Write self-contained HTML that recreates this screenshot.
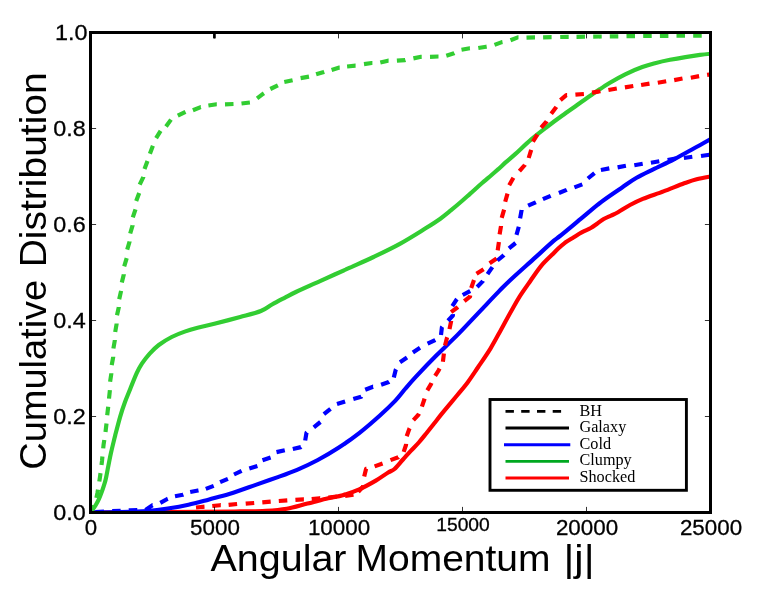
<!DOCTYPE html>
<html><head><meta charset="utf-8"><title>Cumulative Distribution</title>
<style>html,body{margin:0;padding:0;background:#fff;}svg{display:block;will-change:transform;}text{font-family:"Liberation Sans",sans-serif;fill:#000;}.ser{font-family:"Liberation Serif",serif;}</style>
</head><body>
<svg width="773" height="596" viewBox="0 0 773 596">
<rect x="0" y="0" width="773" height="596" fill="#fff"/>
<svg x="90.5" y="32.5" width="620.0" height="480.0" viewBox="90.5 32.5 620.0 480.0" overflow="hidden">
<g fill="none" stroke-linejoin="round">
<path d="M90.5,512.5 C114.6,512.3 205.8,511.8 235.0,511.5 C264.2,511.2 257.4,511.3 266.0,510.8 C274.6,510.3 279.9,509.9 286.8,508.7 C293.7,507.5 300.6,505.2 307.5,503.5 C314.4,501.8 322.3,499.7 328.2,498.3 C334.1,496.9 337.5,496.7 342.7,495.2 C347.9,493.7 353.7,491.7 359.2,489.3 C364.7,486.9 371.0,483.4 375.8,480.6 C380.6,477.8 385.1,474.4 388.2,472.5 C391.3,470.6 392.0,471.2 394.5,469.0 C397.0,466.8 400.3,462.5 403.0,459.5 C405.7,456.5 408.2,453.6 410.8,450.8 C413.4,448.0 416.2,445.5 418.8,442.5 C421.4,439.5 424.0,436.2 426.6,433.0 C429.2,429.8 431.7,426.6 434.3,423.3 C436.9,420.0 439.5,416.6 442.1,413.4 C444.7,410.2 447.2,407.2 449.8,404.1 C452.4,401.0 454.6,398.5 457.6,394.8 C460.6,391.1 464.4,386.8 467.8,382.2 C471.2,377.6 474.4,372.6 478.2,367.0 C482.0,361.4 486.8,354.5 490.6,348.3 C494.4,342.1 497.6,335.9 501.0,329.7 C504.4,323.5 508.2,316.5 511.3,311.0 C514.4,305.5 516.3,301.8 519.6,296.6 C522.9,291.4 527.4,285.2 531.0,280.0 C534.6,274.8 537.9,269.8 541.4,265.6 C544.9,261.4 549.2,257.6 552.0,254.8 C554.8,252.0 555.9,250.8 558.0,248.8 C560.1,246.8 562.4,244.7 564.9,242.8 C567.4,241.0 570.2,239.4 573.0,237.7 C575.8,236.0 578.7,234.0 581.7,232.4 C584.7,230.8 588.2,229.4 590.8,228.0 C593.3,226.6 594.9,225.3 597.0,223.8 C599.1,222.3 601.4,220.4 603.7,219.0 C606.0,217.6 608.6,216.7 611.0,215.6 C613.4,214.5 614.8,214.1 618.0,212.3 C621.2,210.5 625.9,207.2 630.0,205.0 C634.1,202.8 637.2,201.2 642.8,198.9 C648.4,196.6 656.6,194.0 663.5,191.4 C670.4,188.8 678.7,185.3 684.2,183.3 C689.7,181.3 692.0,180.4 696.6,179.2 C701.2,178.0 709.4,176.7 712.0,176.2" stroke="#ff0000" stroke-width="4.17"/>
<path d="M90.5,512.5 C91.0,511.9 92.3,510.1 93.2,508.8 C94.1,507.6 94.8,506.7 95.8,505.0 C96.8,503.3 98.0,500.9 99.0,498.8 C100.0,496.7 100.8,494.5 101.6,492.3 C102.4,490.1 103.1,488.0 103.8,485.8 C104.5,483.6 105.0,482.5 105.7,479.2 C106.5,475.9 107.4,470.5 108.3,466.1 C109.2,461.7 110.0,457.2 111.0,452.8 C112.0,448.4 113.3,443.1 114.1,439.8 C114.9,436.5 114.8,437.0 115.8,433.1 C116.8,429.2 118.7,421.8 120.2,416.6 C121.7,411.4 123.3,406.6 125.0,402.0 C126.7,397.4 128.4,393.5 130.3,388.7 C132.2,383.9 134.8,377.3 136.7,373.1 C138.6,368.9 139.7,366.9 141.9,363.6 C144.1,360.4 146.9,356.7 149.7,353.6 C152.5,350.5 155.1,347.8 158.8,345.0 C162.5,342.2 167.4,339.2 171.7,337.0 C176.0,334.8 180.4,333.1 184.7,331.6 C189.0,330.1 192.6,329.1 197.6,327.8 C202.6,326.5 207.3,325.6 214.4,323.8 C221.5,322.0 232.4,319.1 240.2,317.0 C247.9,314.9 255.6,313.1 260.9,311.0 C266.2,308.9 268.0,306.7 272.0,304.5 C276.0,302.3 281.0,299.7 285.0,297.6 C289.0,295.5 289.8,294.9 295.9,292.0 C302.0,289.1 313.1,284.2 321.7,280.3 C330.3,276.4 339.0,272.6 347.6,268.7 C356.2,264.8 364.9,261.1 373.5,257.0 C382.1,252.9 390.8,248.8 399.4,244.1 C408.0,239.4 418.4,232.8 425.2,228.6 C432.0,224.4 435.7,222.1 440.0,219.0 C444.3,215.9 447.3,213.3 451.1,210.2 C454.9,207.1 459.7,203.0 462.8,200.3 C465.9,197.6 467.6,196.0 470.0,193.9 C472.4,191.8 474.8,189.6 477.1,187.5 C479.4,185.4 481.6,183.5 484.0,181.4 C486.4,179.3 489.0,177.2 491.3,175.2 C493.6,173.2 495.6,171.5 498.0,169.4 C500.4,167.3 502.7,165.0 505.6,162.4 C508.5,159.8 511.3,157.7 515.5,153.9 C519.7,150.1 525.8,144.0 531.0,139.6 C536.2,135.2 541.3,131.3 546.5,127.3 C551.7,123.3 556.8,119.5 562.0,115.8 C567.2,112.0 572.3,108.5 577.5,104.8 C582.7,101.1 587.9,97.3 593.2,93.7 C598.5,90.1 604.2,86.2 609.5,83.0 C614.8,79.8 619.7,77.0 625.2,74.3 C630.7,71.6 637.3,68.8 642.3,67.0 C647.3,65.2 650.4,64.4 655.0,63.2 C659.6,62.0 664.9,60.8 670.0,59.8 C675.1,58.8 680.4,57.9 685.4,57.1 C690.4,56.3 695.6,55.5 700.0,54.9 C704.4,54.3 710.0,53.8 712.0,53.6" stroke="#32cd32" stroke-width="4.17"/>
<path d="M90.5,512.5 C95.4,512.4 110.6,512.2 120.0,512.0 C129.4,511.8 139.0,511.6 147.0,511.0 C155.0,510.4 160.9,509.6 167.8,508.5 C174.7,507.4 181.6,506.2 188.5,504.7 C195.4,503.2 202.3,501.2 209.2,499.4 C216.1,497.6 222.2,496.2 230.0,493.8 C237.8,491.4 248.0,487.6 255.7,484.9 C263.4,482.2 269.5,480.1 276.4,477.6 C283.3,475.1 290.2,472.7 297.1,469.8 C304.0,466.9 310.9,463.7 317.8,460.0 C324.7,456.3 331.6,452.3 338.5,447.8 C345.4,443.3 352.3,438.5 359.2,433.1 C366.1,427.7 373.9,420.9 379.9,415.5 C385.9,410.1 391.1,405.1 395.4,400.6 C399.7,396.1 402.1,392.5 405.5,388.5 C408.9,384.5 410.8,382.2 416.0,376.6 C421.2,371.0 429.9,361.9 436.8,355.0 C443.7,348.1 450.6,341.9 457.5,334.9 C464.4,327.9 471.3,320.4 478.2,313.1 C485.1,305.9 493.5,296.9 498.9,291.4 C504.3,285.9 504.7,285.3 510.4,280.0 C516.1,274.7 526.0,265.9 533.2,259.4 C540.5,252.8 549.4,244.6 553.9,240.7 C558.4,236.8 555.5,239.6 560.0,236.0 C564.5,232.4 573.8,224.6 580.7,218.9 C587.6,213.2 594.5,207.1 601.4,201.8 C608.3,196.6 616.2,191.4 622.1,187.4 C628.0,183.4 631.4,180.8 636.6,177.8 C641.8,174.8 647.0,172.4 653.2,169.3 C659.4,166.2 667.0,162.9 673.9,159.3 C680.8,155.8 688.2,151.5 694.6,148.0 C701.0,144.5 709.1,139.9 712.0,138.3" stroke="#0000ff" stroke-width="4.17"/>
<path d="M196.0,507.5 L203.0,506.8 L204.5,506.7 M212.3,506.0 L220.0,505.2 L220.8,505.2 M228.6,504.9 L237.1,504.0 M245.7,503.7 L254.2,503.0 M262.3,502.3 L270.7,501.6 M278.8,501.0 L287.3,500.4 M295.4,499.8 L303.7,499.3 L303.9,499.3 M311.7,499.0 L319.8,498.2 L320.2,498.2 M328.3,497.5 L336.5,496.7 L336.8,496.7 M345.1,495.9 L353.5,494.7 M358.3,492.0 L363.0,486.6 L363.2,485.3 M364.2,476.5 L366.1,468.7 L366.6,468.6 M374.6,466.4 L382.6,463.5 M390.5,460.1 L398.3,457.2 L398.4,457.1 M403.7,451.9 L406.0,445.0 L406.1,443.8 M406.7,436.2 L409.5,428.4 L409.6,428.2 M413.4,420.1 L418.4,414.8 L418.9,413.7 M421.9,406.6 L424.4,399.3 L424.6,398.6 M427.3,390.4 L431.0,384.1 L431.5,383.0 M435.1,375.8 L438.8,370.1 L439.6,368.6 M442.9,361.8 L443.9,353.4 M445.0,345.5 L447.0,337.8 L447.2,337.3 M449.5,329.2 L451.1,321.4 L451.1,320.9 M451.1,312.1 L457.3,307.5 L457.9,307.0 M464.3,301.2 L470.0,296.6 L470.2,295.4 M471.2,288.0 L473.6,281.1 L474.0,280.0 M476.5,273.8 L483.6,269.2 M489.6,263.2 L496.6,258.5 L496.6,258.4 M497.7,250.4 L498.8,242.8 L498.9,242.0 M499.6,234.3 L501.0,226.2 L501.0,225.9 M501.7,217.8 L504.1,209.6 M505.2,201.8 L507.5,193.6 M509.2,185.2 L513.4,177.8 M519.4,171.2 L524.8,165.0 L524.9,164.8 M528.7,158.0 L531.1,150.2 L531.2,149.9 M532.9,141.7 L537.3,134.7 L537.4,134.5 M541.1,127.7 L546.6,121.5 L546.7,121.3 M551.2,113.7 L555.9,107.5 L556.3,106.9 M560.4,100.2 L566.3,95.2 L567.1,95.2 M575.4,94.7 L583.9,94.0 M592.0,92.6 L600.0,91.3 L600.4,91.2 M608.4,90.0 L616.8,88.5 M624.9,87.4 L633.3,86.0 M641.1,85.0 L649.5,83.6 M657.8,82.7 L666.2,81.2 M674.2,80.1 L682.5,78.5 M690.8,77.7 L699.1,76.1 M707.1,74.9 L712.0,74.2" stroke="#ff0000" stroke-width="4.17"/>
<path d="M90.5,512.5 L92.2,509.7 L94.2,505.8 M96.4,497.9 L97.4,493.2 L98.0,489.6 M99.3,481.5 L99.9,477.6 L100.5,473.1 M101.5,465.0 L102.0,461.0 L102.4,456.5 M103.2,448.4 L103.6,444.5 L104.3,440.0 M105.5,431.9 L106.5,423.5 M107.2,415.2 L108.2,406.8 M109.0,398.6 L109.9,390.1 M110.1,381.7 L111.3,373.7 L111.3,373.3 M111.7,365.2 L113.2,357.2 L113.2,356.8 M113.4,348.5 L114.8,340.5 L114.8,340.1 M115.2,332.0 L116.6,324.0 L116.6,323.6 M117.0,315.3 L118.8,307.2 L118.8,307.0 M119.2,299.2 L121.1,290.9 M121.8,282.5 L123.8,274.4 L123.8,274.2 M124.2,266.3 L126.7,258.2 M127.2,249.6 L129.6,241.5 L129.6,241.4 M130.2,233.5 L132.6,225.4 L132.6,225.3 M132.8,217.4 L135.5,209.3 M136.2,200.9 L139.2,192.9 M139.7,184.6 L143.3,177.1 L143.3,176.9 M144.5,169.1 L147.5,161.1 M149.9,153.7 L152.9,145.8 M156.1,138.1 L160.6,130.9 M166.0,126.5 L171.0,119.6 M177.8,115.6 L185.5,111.9 M192.9,110.2 L200.7,107.1 L200.8,107.1 M208.4,105.5 L216.6,104.3 L216.8,104.3 M225.0,104.3 L233.5,104.0 M241.5,103.5 L249.9,102.5 M257.1,98.3 L263.3,93.7 L263.9,93.3 M270.3,89.0 L277.3,85.6 L277.9,85.3 M284.3,82.0 L292.6,80.2 M300.6,78.1 L309.0,76.6 M316.1,74.3 L323.9,71.9 L324.2,71.8 M331.6,70.1 L339.4,67.6 L339.7,67.6 M347.1,66.5 L355.5,65.7 L355.6,65.7 M364.0,64.1 L371.7,63.0 L372.4,63.0 M380.3,62.6 L388.0,60.7 L388.6,60.7 M396.9,60.7 L405.1,60.1 L405.4,60.0 M413.4,58.4 L421.1,56.8 L421.7,56.8 M430.0,56.8 L438.2,56.5 L438.5,56.5 M446.3,55.7 L454.0,53.3 L454.4,53.1 M461.5,49.8 L469.8,48.3 L469.9,48.3 M478.3,48.0 L486.1,46.7 L486.7,46.6 M494.5,44.9 L501.9,42.1 L502.5,42.0 M510.5,40.2 L517.8,37.4 L518.5,37.4 M526.5,37.7 L534.8,37.4 L535.0,37.4 M543.1,37.4 L551.3,37.1 L551.6,37.1 M560.2,37.0 L567.9,36.8 L568.7,36.8 M576.5,36.8 L585.0,36.7 M593.2,36.6 L593.2,36.6 L601.7,36.5 M609.8,36.4 L618.3,36.3 M626.5,36.2 L635.0,36.1 M643.2,36.0 L643.2,36.0 L651.7,35.9 M659.9,35.9 L668.4,35.8 M676.5,35.7 L685.0,35.7 M693.2,35.6 L701.7,35.6 M709.9,35.5 L712.0,35.5" stroke="#32cd32" stroke-width="4.17"/>
<path d="M95.5,512.0 L104.0,511.6 M112.2,511.2 L120.7,510.8 M128.8,510.4 L130.0,510.3 L137.3,510.1 M145.5,509.9 L152.5,505.2 L152.6,505.2 M160.3,502.9 L167.3,499.0 L167.8,498.8 M175.0,496.2 L182.8,494.7 L183.3,494.5 M190.2,492.0 L198.0,490.5 L198.5,490.4 M205.8,488.9 L213.7,485.9 M220.1,482.2 L227.9,478.9 M234.0,474.5 L241.6,470.8 M249.3,468.4 L257.4,465.9 M262.5,460.2 L270.6,457.5 M276.5,452.1 L284.8,450.2 M292.8,449.0 L300.9,447.1 L301.0,447.0 M305.2,440.5 L306.5,432.7 L306.9,432.3 M313.8,427.3 L320.4,422.0 M323.9,414.1 L330.5,408.8 M337.0,404.0 L345.1,401.4 M353.3,399.1 L361.2,396.8 L361.3,396.6 M365.2,389.8 L373.0,386.7 L373.1,386.7 M381.1,384.7 L388.8,382.0 L389.1,381.8 M393.8,377.4 L395.8,369.6 L396.0,369.2 M400.0,362.3 L407.0,357.5 M412.9,352.5 L420.0,347.8 M427.6,343.7 L435.1,340.1 L435.3,340.0 M441.0,335.1 L441.9,327.3 L442.3,326.8 M448.0,320.7 L452.9,315.5 L452.8,314.2 M452.3,306.2 L456.5,299.7 L457.0,299.1 M462.7,295.0 L470.0,291.1 L470.2,291.0 M477.1,287.0 L482.9,281.1 L483.0,280.9 M487.5,274.1 L492.2,267.4 L492.4,267.1 M497.4,260.5 L503.9,255.2 L504.0,255.1 M509.0,248.3 L515.6,243.0 L515.6,243.0 M516.5,234.9 L518.8,226.7 M520.1,218.4 L521.6,210.1 L521.6,210.0 M528.1,205.7 L535.6,202.3 L535.8,202.2 M542.9,199.2 L550.7,195.8 M558.9,193.0 L566.6,189.9 L566.8,189.8 M574.4,187.4 L582.3,184.4 M587.9,178.5 L594.5,173.1 M600.9,170.0 L609.3,168.4 M617.6,167.4 L625.9,165.8 M634.3,165.3 L642.7,163.8 M650.9,162.7 L659.3,161.2 M667.6,160.0 L675.4,158.5 L676.0,158.5 M683.9,158.0 L692.3,156.8 M701.0,156.0 L709.4,154.7" stroke="#0000ff" stroke-width="4.17"/>
</g>
</svg>
<line x1="214.4" y1="32.5" x2="214.4" y2="38.4" stroke="#000" stroke-width="2.7"/>
<g stroke="#000" stroke-width="0.8">
<line x1="90.5" y1="512.5" x2="90.5" y2="506.9"/><line x1="90.5" y1="32.5" x2="90.5" y2="38.4"/>
<line x1="90.5" y1="512.5" x2="96.1" y2="512.5"/><line x1="710.5" y1="512.5" x2="704.9" y2="512.5"/>
<line x1="214.5" y1="512.5" x2="214.5" y2="506.9"/><line x1="214.5" y1="32.5" x2="214.5" y2="38.4"/>
<line x1="90.5" y1="416.5" x2="96.1" y2="416.5"/><line x1="710.5" y1="416.5" x2="704.9" y2="416.5"/>
<line x1="338.5" y1="512.5" x2="338.5" y2="506.9"/><line x1="338.5" y1="32.5" x2="338.5" y2="38.4"/>
<line x1="90.5" y1="320.5" x2="96.1" y2="320.5"/><line x1="710.5" y1="320.5" x2="704.9" y2="320.5"/>
<line x1="462.5" y1="512.5" x2="462.5" y2="506.9"/><line x1="462.5" y1="32.5" x2="462.5" y2="38.4"/>
<line x1="90.5" y1="224.5" x2="96.1" y2="224.5"/><line x1="710.5" y1="224.5" x2="704.9" y2="224.5"/>
<line x1="586.5" y1="512.5" x2="586.5" y2="506.9"/><line x1="586.5" y1="32.5" x2="586.5" y2="38.4"/>
<line x1="90.5" y1="128.5" x2="96.1" y2="128.5"/><line x1="710.5" y1="128.5" x2="704.9" y2="128.5"/>
<line x1="710.5" y1="512.5" x2="710.5" y2="506.9"/><line x1="710.5" y1="32.5" x2="710.5" y2="38.4"/>
<line x1="90.5" y1="32.5" x2="96.1" y2="32.5"/><line x1="710.5" y1="32.5" x2="704.9" y2="32.5"/>
</g>
<rect x="90.5" y="32.5" width="620.0" height="480.0" fill="none" stroke="#000" stroke-width="3"/>
<text x="85.8" y="519.8" font-size="22.6" stroke="#000" stroke-width="0.3" text-anchor="end" textLength="32.5" lengthAdjust="spacingAndGlyphs">0.0</text>
<text x="85.8" y="423.8" font-size="22.6" stroke="#000" stroke-width="0.3" text-anchor="end" textLength="32.5" lengthAdjust="spacingAndGlyphs">0.2</text>
<text x="85.8" y="327.8" font-size="22.6" stroke="#000" stroke-width="0.3" text-anchor="end" textLength="32.5" lengthAdjust="spacingAndGlyphs">0.4</text>
<text x="85.8" y="231.8" font-size="22.6" stroke="#000" stroke-width="0.3" text-anchor="end" textLength="32.5" lengthAdjust="spacingAndGlyphs">0.6</text>
<text x="85.8" y="135.8" font-size="22.6" stroke="#000" stroke-width="0.3" text-anchor="end" textLength="32.5" lengthAdjust="spacingAndGlyphs">0.8</text>
<text x="87.5" y="39.8" font-size="22.6" stroke="#000" stroke-width="0.3" text-anchor="end" textLength="32.5" lengthAdjust="spacingAndGlyphs">1.0</text>
<text x="91.0" y="535.3" font-size="22.6" stroke="#000" stroke-width="0.3" text-anchor="middle" textLength="12.4" lengthAdjust="spacingAndGlyphs">0</text>
<text x="215.0" y="535.3" font-size="22.6" stroke="#000" stroke-width="0.3" text-anchor="middle" textLength="49.8" lengthAdjust="spacingAndGlyphs">5000</text>
<text x="339.0" y="535.3" font-size="22.6" stroke="#000" stroke-width="0.3" text-anchor="middle" textLength="62.2" lengthAdjust="spacingAndGlyphs">10000</text>
<text x="463.0" y="531.0" font-size="19.2" stroke="#000" stroke-width="0.3" text-anchor="middle" textLength="53.5" lengthAdjust="spacingAndGlyphs">15000</text>
<text x="587.0" y="535.3" font-size="22.6" stroke="#000" stroke-width="0.3" text-anchor="middle" textLength="62.2" lengthAdjust="spacingAndGlyphs">20000</text>
<text x="711.0" y="535.3" font-size="22.6" stroke="#000" stroke-width="0.3" text-anchor="middle" textLength="62.2" lengthAdjust="spacingAndGlyphs">25000</text>
<text x="210.5" y="571" font-size="36.5" textLength="136" lengthAdjust="spacingAndGlyphs">Angular</text>
<text x="355.5" y="571" font-size="36.5" textLength="195" lengthAdjust="spacingAndGlyphs">Momentum</text>
<text x="563.5" y="571" font-size="36.5" textLength="31" lengthAdjust="spacingAndGlyphs">|j|</text>
<text transform="translate(46.2,469.8) rotate(-90)" x="0" y="0" font-size="36.5" textLength="190" lengthAdjust="spacingAndGlyphs">Cumulative</text>
<text transform="translate(46.2,469.8) rotate(-90)" x="202.5" y="0" font-size="36.5" textLength="195" lengthAdjust="spacingAndGlyphs">Distribution</text>
<rect x="490" y="399.5" width="196.4" height="90.8" fill="#fff" stroke="#000" stroke-width="2.9"/>
<g fill="none" stroke-width="2.9">
<path d="M505.5,411.4h8.4M521.2,411.4h8.4M537,411.4h8.4M552.7,411.4h8.4" stroke="#000"/>
<line x1="505.5" y1="428" x2="569" y2="428" stroke="#000"/>
<line x1="504" y1="444.7" x2="570.3" y2="444.7" stroke="#0000ff"/>
<line x1="505.5" y1="461.4" x2="569" y2="461.4" stroke="#00a820"/>
<line x1="505.5" y1="478" x2="569" y2="478" stroke="#ff0000"/>
</g>
<text class="ser" x="579.5" y="415.8" font-size="16.2">BH</text>
<text class="ser" x="579.5" y="432.3" font-size="16.2">Galaxy</text>
<text class="ser" x="579.5" y="448.8" font-size="16.2">Cold</text>
<text class="ser" x="579.5" y="465.4" font-size="16.2">Clumpy</text>
<text class="ser" x="579.5" y="482.3" font-size="16.2">Shocked</text>
</svg>
</body></html>
